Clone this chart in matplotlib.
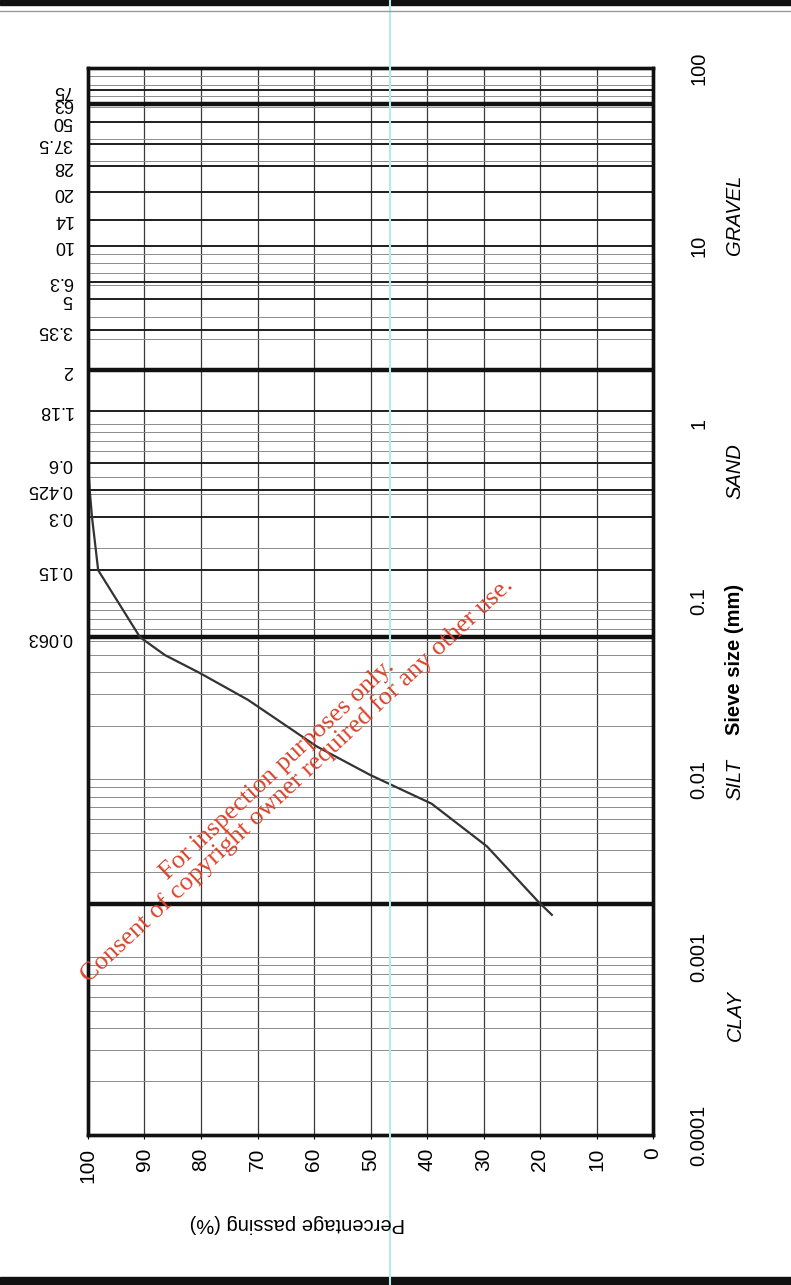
import matplotlib.pyplot as plt
import numpy as np
from matplotlib.lines import Line2D
from matplotlib.patches import Rectangle
from matplotlib.ticker import LogLocator, NullFormatter, NullLocator

plt.rcParams['font.family'] = ['Liberation Sans', 'DejaVu Sans']

W, H = 791, 1285

# sieve lines (left labels)
sieve_sizes = [75, 63, 50, 37.5, 28, 20, 14, 10, 6.3, 5, 3.35, 2, 1.18,
               0.6, 0.425, 0.3, 0.15, 0.063]
sieve_labels = ['75', '63', '50', '37.5', '28', '20', '14', '10', '6.3', '5',
                '3.35', '2', '1.18', '0.6', '0.425', '0.3', '0.15', '0.063']
# gravel/sand/silt/clay boundaries
boundaries = [63, 2, 0.063, 0.002]
decades = [0.0001, 0.001, 0.01, 0.1, 1, 10, 100]
decade_labels = ['0.0001', '0.001', '0.01', '0.1', '1', '10', '100']
passing_ticks = list(range(0, 101, 10))

# grading curve
size_mm = [0.6, 0.425, 0.3, 0.15, 0.063, 0.05, 0.0396, 0.028, 0.0153,
           0.0106, 0.0073, 0.0042, 0.00205, 0.00173]
passing = [100, 99.7, 99.3, 98.2, 90.8, 86.4, 80.2, 71.7, 59.5,
           50.1, 39.2, 29.4, 20.3, 17.9]

fractions = ['GRAVEL', 'SAND', 'SILT', 'CLAY']
fraction_at = [15, 0.54, 0.01, 0.00047]

fig = plt.figure(figsize=(W / 100, H / 100), dpi=100)
fig.patch.set_facecolor('white')
ax = fig.add_axes([88 / W, 1 - 1135 / H, (653 - 88) / W, (1135 - 68) / H])
ax.set_yscale('log')
ax.set_ylim(1e-4, 100)
ax.set_xlim(100, 0)

# thin log grid
ax.yaxis.set_minor_locator(LogLocator(base=10, subs=np.arange(1, 10), numticks=100))
ax.yaxis.set_minor_formatter(NullFormatter())
ax.grid(which='minor', axis='y', color='#8c8c8c', lw=0.7)
ax.tick_params(axis='y', which='minor', length=0)

# sieve lines
ax.set_yticks(sieve_sizes, sieve_labels)
ax.grid(which='major', axis='y', color='#1e1e1e', lw=1.4)
ax.tick_params(axis='y', which='major', length=0, pad=11, labelsize=13,
               labelrotation=180)
for t in ax.get_yticklabels():
    t.set_va('center')

ax.set_xticks(passing_ticks)
ax.grid(which='major', axis='x', color='#3a3a3a', lw=0.9)
ax.tick_params(axis='x', length=3, width=0.8, pad=6, labelsize=15,
               labelrotation=90)

for b in boundaries:
    ax.axhline(b, color='#111111', lw=3.2, zorder=3)

ax.plot(passing, size_mm, color='#333333', lw=1.6, zorder=4)

for s in ax.spines.values():
    s.set_linewidth(2.4)
    s.set_color('#111111')

ax2 = ax.twinx()
ax2.set_yscale('log')
ax2.set_ylim(ax.get_ylim())
ax2.set_yticks(decades, decade_labels)
ax2.yaxis.set_minor_locator(NullLocator())
ax2.tick_params(axis='y', length=0, pad=26, labelsize=14.5, labelrotation=90)
for t in ax2.get_yticklabels():
    t.set_va('center')
for s in ax2.spines.values():
    s.set_linewidth(2.4)
    s.set_color('#111111')

tr = ax.get_yaxis_transform()
for name, y in zip(fractions, fraction_at):
    ax.text(1.145, y, name, transform=tr, rotation=90, ha='center',
            va='center', fontsize=14.5, style='italic')
ax.text(1.145, 0.047, 'Sieve size (mm)', transform=tr, rotation=90,
        ha='center', va='center', fontsize=14.5, fontweight='bold')

fig.text(297 / W, 1 - 1223 / H, 'Percentage passing (%)', rotation=180,
         ha='center', va='center', fontsize=14.5)

# watermark
wm = dict(rotation=43, rotation_mode='anchor', ha='center', va='center',
          color='#d9442c', family=['Liberation Serif', 'DejaVu Serif'],
          fontsize=19)
fig.text(277 / W, 1 - 770 / H, 'For inspection purposes only.', **wm)
fig.text(297 / W, 1 - 780 / H,
         'Consent of copyright owner required for any other use.', **wm)

# scan artefacts: cyan stripe and page edges
fig.add_artist(Line2D([390 / W, 390 / W], [0, 1], transform=fig.transFigure,
                      color='#b4eaea', lw=1.5))
fig.add_artist(Rectangle((0, 1 - 5 / H), 1, 5 / H, transform=fig.transFigure,
                         color='#111111'))
fig.add_artist(Line2D([0, 1], [1 - 11 / H, 1 - 11 / H], transform=fig.transFigure,
                      color='#9a9a9a', lw=1))
fig.add_artist(Rectangle((0, 0), 1, 8 / H, transform=fig.transFigure,
                         color='#111111'))

fig.savefig('out.png', dpi=100)
